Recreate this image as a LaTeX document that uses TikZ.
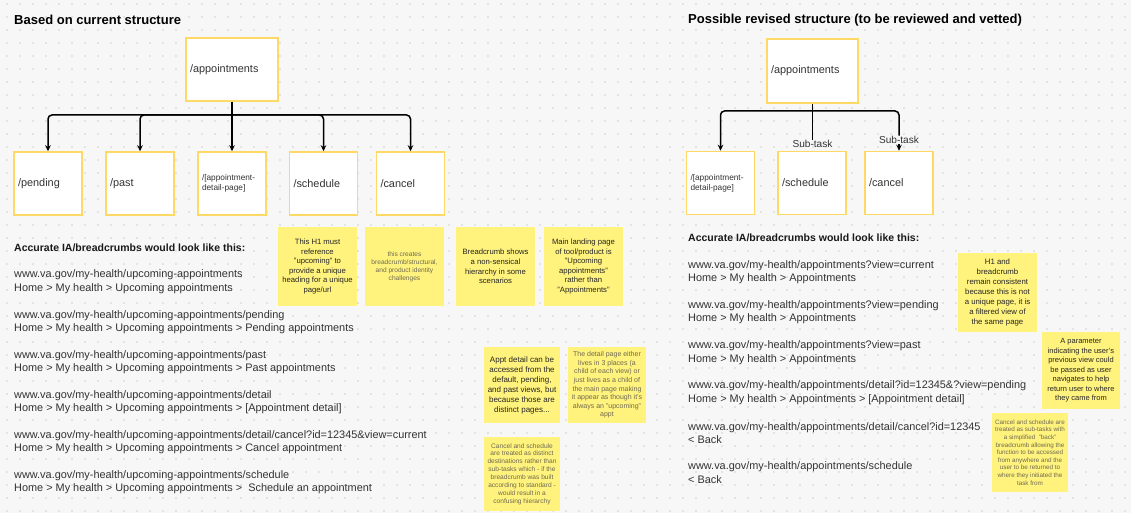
\documentclass[tikz,border=0pt]{standalone}
\usepackage{fontspec}
\setmainfont{Liberation Sans}
\usetikzlibrary{arrows.meta, positioning}
\definecolor{boxgold}{HTML}{FFD966}
\definecolor{notey}{HTML}{FFF27D}
\definecolor{canvas}{HTML}{F7F7F7}
\definecolor{griddot}{HTML}{CFCFCF}
\definecolor{inktext}{HTML}{333333}
\definecolor{notegray}{HTML}{6E6A52}

\begin{document}
\begin{tikzpicture}[x=1pt, y=-1pt,
  pagebox/.style={draw=boxgold, line width=1.5pt, fill=white, minimum height=63pt, text width=60pt, inner sep=4pt, align=left, text=inktext, font=\fontsize{10.9}{13}\selectfont},
  sticky/.style={fill=notey, minimum width=79pt, minimum height=79pt, align=center, inner sep=2pt, text=black!85, font=\fontsize{7.7}{9.6}\selectfont},
  stickylite/.style={sticky, text=notegray, font=\fontsize{6.6}{7.9}\selectfont},
  crumbs/.style={anchor=west, align=left, inner sep=0pt, text=inktext, font=\fontsize{10.9}{13.5}\selectfont},
  heading/.style={anchor=west, inner sep=0pt, font=\bfseries\fontsize{13}{15}\selectfont},
  subhead/.style={anchor=west, inner sep=0pt, text=black!90, font=\bfseries\fontsize{10.5}{12}\selectfont},
  sublabel/.style={inner sep=0.5pt, text=inktext, font=\fontsize{10.1}{12}\selectfont},
  branch/.style={line width=1.5pt, rounded corners=4pt},
  arrowed/.style={-{Stealth[length=6pt, width=5.5pt]}}]
\useasboundingbox (0,0) rectangle (1131,513);
\fill[canvas] (0,0) rectangle (1131,513);
\foreach \gx in {7,20,...,1131}
  \foreach \gy in {4,17,...,513}
    \fill[griddot] (\gx,\gy) circle (0.8);

%current structure
\node[heading] at (14,20) (lhead) {Based on current structure};
\node[pagebox, text width=84pt] at (232,69.5) (lapp) {/appointments};
\node[pagebox] at (48,183.5) (lpend) {/pending};
\node[pagebox] at (140,183.5) (lpast) {/past};
\node[pagebox, font=\fontsize{8.3}{10}\selectfont] at (232,183.5) (ldet) {/[appointment-\\detail-page]};
\node[pagebox] at (323.5,183.5) (lsched) {/schedule};
\node[pagebox] at (410.5,183.5) (lcanc) {/cancel};
\coordinate (lfork) at (232,115);
\draw[branch] (lapp.south) -- (lfork);
\foreach \kid in {lpend,lpast,lsched,lcanc}
  \draw[branch, arrowed] (lfork) -| (\kid.north);
\draw[branch, arrowed] (lfork) -- (ldet.north);

\node[subhead] at (14,248) (lcrumbhead) {Accurate IA/breadcrumbs would look like this:};
\node[crumbs] at (14,281.5) (lc1) {www.va.gov/my-health/upcoming-appointments\\Home > My health > Upcoming appointments};
\node[crumbs] at (14,322) (lc2) {www.va.gov/my-health/upcoming-appointments/pending\\Home > My health > Upcoming appointments > Pending appointments};
\node[crumbs] at (14,362) (lc3) {www.va.gov/my-health/upcoming-appointments/past\\Home > My health > Upcoming appointments > Past appointments};
\node[crumbs] at (14,402) (lc4) {www.va.gov/my-health/upcoming-appointments/detail\\Home > My health > Upcoming appointments > [Appointment detail]};
\node[crumbs] at (14,442) (lc5) {www.va.gov/my-health/upcoming-appointments/detail/cancel?id=12345\&view=current\\Home > My health > Upcoming appointments > Cancel appointment};
\node[crumbs] at (14,482) (lc6) {www.va.gov/my-health/upcoming-appointments/schedule\\Home > My health > Upcoming appointments >\ \ Schedule an appointment};

\node[sticky] at (317.5,266.5) (n1) {This H1 must\\reference\\"upcoming" to\\provide a unique\\heading for a unique\\page/url};
\node[stickylite] at (404.5,266.5) (n2) {this creates\\breadcrumb/structural,\\and product identity\\challenges};
\node[sticky] at (495.5,266.5) (n3) {Breadcrumb shows\\a non-sensical\\hierarchy in some\\scenarios};
\node[sticky] at (583.5,266.5) (n4) {Main landing page\\of tool/product is\\"Upcoming\\appointments"\\rather than\\"Appointments"};
\node[sticky, minimum width=76pt, minimum height=76pt, font=\fontsize{8}{10}\selectfont] at (522,385) (n5) {Appt detail can be\\accessed from the\\default, pending,\\and past views, but\\because those are\\distinct pages...};
\node[stickylite, minimum width=78pt, minimum height=76pt, font=\fontsize{7}{8.6}\selectfont] at (607,385) (n6) {The detail page either\\lives in 3 places (a\\child of each view) or\\just lives as a child of\\the main page making\\it appear as though it's\\always an "upcoming"\\appt};
\node[stickylite, minimum width=76pt, minimum height=74pt] at (522,474) (n7) {Cancel and schedule\\are treated as distinct\\destinations rather than\\sub-tasks which - if the\\breadcrumb was built\\according to standard -\\would result in a\\confusing hierarchy};

%revised structure
\node[heading] at (688,20) (rhead) {Possible revised structure (to be reviewed and vetted)};
\node[pagebox, text width=83pt, minimum height=64pt] at (812.5,71) (rapp) {/appointments};
\node[pagebox, font=\fontsize{8.3}{10}\selectfont] at (720.5,183) (rdet) {/[appointment-\\detail-page]};
\node[pagebox] at (812,183) (rsched) {/schedule};
\node[pagebox] at (899,183) (rcanc) {/cancel};
\coordinate (rfork) at (812.5,111);
\node[sublabel] at (812.5,144) (subsched) {Sub-task};
\node[sublabel] at (899,140) (subcanc) {Sub-task};
\draw[branch] (rapp.south) -- (subsched.north);
\draw[branch, arrowed] (rfork) -| (rdet.north);
\draw[branch] (rfork) -| (subcanc.north);
\draw[branch, arrowed] (subcanc.south) -- (rcanc.north);

\node[subhead] at (688,238) (rcrumbhead) {Accurate IA/breadcrumbs would look like this:};
\node[crumbs] at (688,272) (rc1) {www.va.gov/my-health/appointments?view=current\\Home > My health > Appointments};
\node[crumbs] at (688,312) (rc2) {www.va.gov/my-health/appointments?view=pending\\Home > My health > Appointments};
\node[crumbs] at (688,352.5) (rc3) {www.va.gov/my-health/appointments?view=past\\Home > My health > Appointments};
\node[crumbs] at (688,392.5) (rc4) {www.va.gov/my-health/appointments/detail?id=12345\&?view=pending\\Home > My health > Appointments > [Appointment detail]};
\node[crumbs] at (688,433) (rc5) {www.va.gov/my-health/appointments/detail/cancel?id=12345\\< Back};
\node[crumbs] at (688,472.5) (rc6) {www.va.gov/my-health/appointments/schedule\\< Back};

\node[sticky, font=\fontsize{7.8}{10}\selectfont] at (997.5,292) (n8) {H1 and\\breadcrumb\\remain consistent\\because this is not\\a unique page, it is\\a filtered view of\\the same page};
\node[sticky, minimum width=78pt, minimum height=77pt, font=\fontsize{7.5}{9.5}\selectfont] at (1081,370.5) (n9) {A parameter\\indicating the user's\\previous view could\\be passed as user\\navigates to help\\return user to where\\they came from};
\node[stickylite, minimum width=76pt, font=\fontsize{6.3}{7.6}\selectfont] at (1030,452.5) (n10) {Cancel and schedule are\\treated as sub-tasks with\\a simplified\ \ "back"\\breadcrumb allowing the\\function to be accessed\\from anywhere and the\\user to be returned to\\where they initiated the\\task from};
\end{tikzpicture}
\end{document}
